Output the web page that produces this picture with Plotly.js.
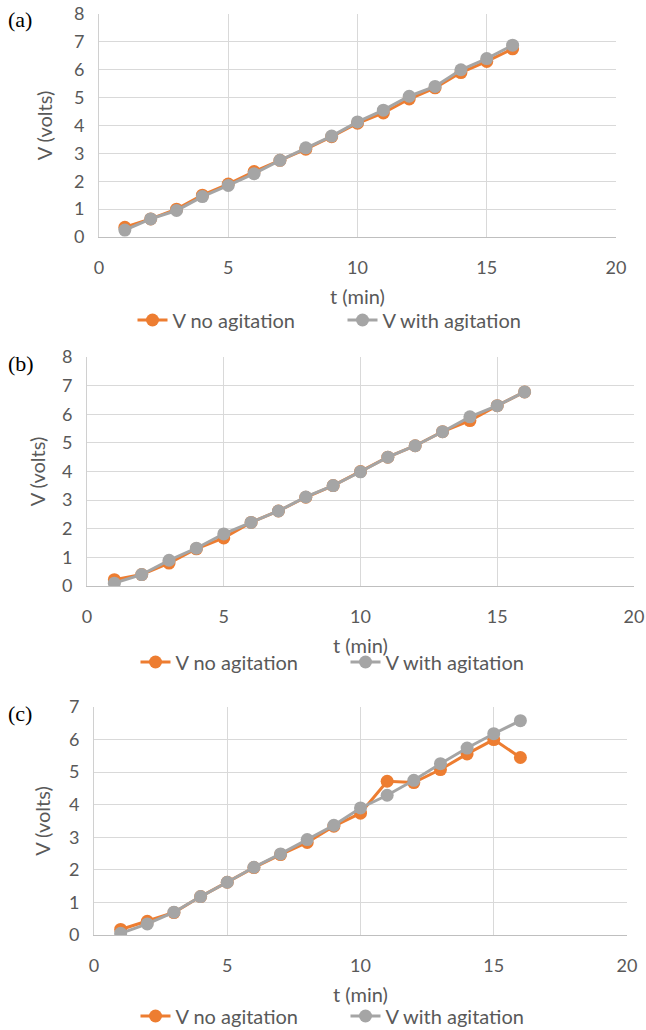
<!DOCTYPE html>
<html>
<head>
<meta charset="utf-8">
<script src="https://cdn.plot.ly/plotly-3.0.1.min.js"></script>
<style>
  html, body { margin: 0; padding: 0; background: #ffffff; }
  #chart { width: 646px; height: 1030px; }
</style>
</head>
<body>
<div id="chart"></div>
<script>
// Time points (min)
const t = [1, 2, 3, 4, 5, 6, 7, 8, 9, 10, 11, 12, 13, 14, 15, 16];

// Panel (a)
const aNoAgitation   = [0.35, 0.65, 1.00, 1.50, 1.90, 2.35, 2.75, 3.15, 3.60, 4.08, 4.45, 4.95, 5.35, 5.90, 6.30, 6.75];
const aWithAgitation = [0.25, 0.65, 0.95, 1.45, 1.85, 2.27, 2.75, 3.20, 3.62, 4.13, 4.55, 5.05, 5.40, 6.00, 6.40, 6.88];

// Panel (b)
const bNoAgitation   = [0.22, 0.40, 0.80, 1.30, 1.68, 2.22, 2.62, 3.10, 3.51, 4.00, 4.50, 4.90, 5.39, 5.78, 6.30, 6.78];
const bWithAgitation = [0.10, 0.40, 0.90, 1.32, 1.82, 2.22, 2.62, 3.11, 3.51, 3.99, 4.50, 4.90, 5.39, 5.91, 6.30, 6.78];

// Panel (c)
const cNoAgitation   = [0.17, 0.42, 0.69, 1.18, 1.62, 2.07, 2.47, 2.84, 3.34, 3.74, 4.72, 4.68, 5.08, 5.56, 6.00, 5.45];
const cWithAgitation = [0.05, 0.34, 0.70, 1.18, 1.62, 2.08, 2.49, 2.93, 3.37, 3.90, 4.29, 4.75, 5.26, 5.74, 6.18, 6.58];

const seriesNames = ['V no agitation', 'V with agitation'];
const panelLabels = ['(a)', '(b)', '(c)'];
const xTitle = 't (min)';
const yTitle = 'V (volts)';

const W = 646, H = 1030;
const ORANGE = '#ED7D31', GREY = '#A5A5A5';
const FONT = 'Lato, "Open Sans", sans-serif';
const TEXT = '#595959';
const CLEAR = 'rgba(0,0,0,0)';

// plot-area boxes in pixels: left, right, top, bottom
const boxes = [
  {l: 99, r: 616, t: 14, b: 237, ymax: 8, ystand: 15},
  {l: 87, r: 634, t: 357, b: 586, ymax: 8, ystand: 10},
  {l: 94, r: 627, t: 707, b: 935, ymax: 7, ystand: 12}
];
const legendY = [320, 662, 1016];
const panelData = [
  [aNoAgitation, aWithAgitation],
  [bNoAgitation, bWithAgitation],
  [cNoAgitation, cWithAgitation]
];

const traces = [];
const layout = {
  width: W, height: H,
  margin: {l: 0, r: 0, t: 0, b: 0, autoexpand: false},
  paper_bgcolor: '#ffffff',
  plot_bgcolor: '#ffffff',
  font: {family: FONT, color: TEXT, size: 18},
  annotations: [],
  showlegend: true
};

boxes.forEach((bx, i) => {
  const n = i === 0 ? '' : String(i + 1);
  const xa = 'xaxis' + n, ya = 'yaxis' + n;
  const legendKey = 'legend' + n;
  layout[xa] = {
    domain: [bx.l / W, bx.r / W],
    anchor: 'y' + n,
    range: [0, 20], dtick: 5, tick0: 0,
    showgrid: true, gridcolor: '#d9d9d9', gridwidth: 1,
    zeroline: false,
    showline: true, linecolor: '#bfbfbf', linewidth: 1.3,
    ticks: 'outside', ticklen: 14, tickcolor: CLEAR,
    tickfont: {family: FONT, size: 18, color: TEXT},
    title: {text: xTitle, font: {family: FONT, size: 20, color: TEXT}, standoff: 13},
    fixedrange: true
  };
  layout[ya] = {
    domain: [1 - bx.b / H, 1 - bx.t / H],
    anchor: 'x' + n,
    range: [0, bx.ymax], dtick: 1, tick0: 0,
    showgrid: true, gridcolor: '#d9d9d9', gridwidth: 1,
    zeroline: false,
    showline: true, linecolor: '#d0d0d0', linewidth: 1,
    ticks: 'outside', ticklen: 10, tickcolor: CLEAR,
    tickfont: {family: FONT, size: 18, color: TEXT},
    title: {text: yTitle, font: {family: FONT, size: 20, color: TEXT}, standoff: bx.ystand},
    fixedrange: true
  };

  layout[legendKey] = {
    orientation: 'h',
    x: ((bx.l + bx.r) / 2 - 15) / W, xanchor: 'center',
    y: 1 - legendY[i] / H, yanchor: 'middle',
    font: {family: FONT, size: 20, color: TEXT},
    bgcolor: CLEAR,
    itemwidth: 30,
    entrywidth: 165, entrywidthmode: 'pixels',
    tracegroupgap: 0
  };

  const cols = [ORANGE, GREY];
  panelData[i].forEach((vals, k) => {
    traces.push({
      type: 'scatter', mode: 'lines+markers',
      x: t, y: vals,
      name: seriesNames[k],
      xaxis: 'x' + n, yaxis: 'y' + n,
      legend: legendKey,
      line: {color: cols[k], width: 3},
      marker: {color: cols[k], size: 13, symbol: 'circle'},
      hoverinfo: 'skip'
    });
  });

  layout.annotations.push({
    text: panelLabels[i],
    xref: 'paper', yref: 'paper',
    x: 6 / W, y: 1 - (bx.t + 6) / H,
    xanchor: 'left', yanchor: 'middle',
    showarrow: false,
    font: {family: '"Liberation Serif", "Times New Roman", serif', size: 22, color: '#000000'}
  });
});

Plotly.newPlot('chart', traces, layout, {staticPlot: true, displayModeBar: false});
</script>
</body>
</html>
